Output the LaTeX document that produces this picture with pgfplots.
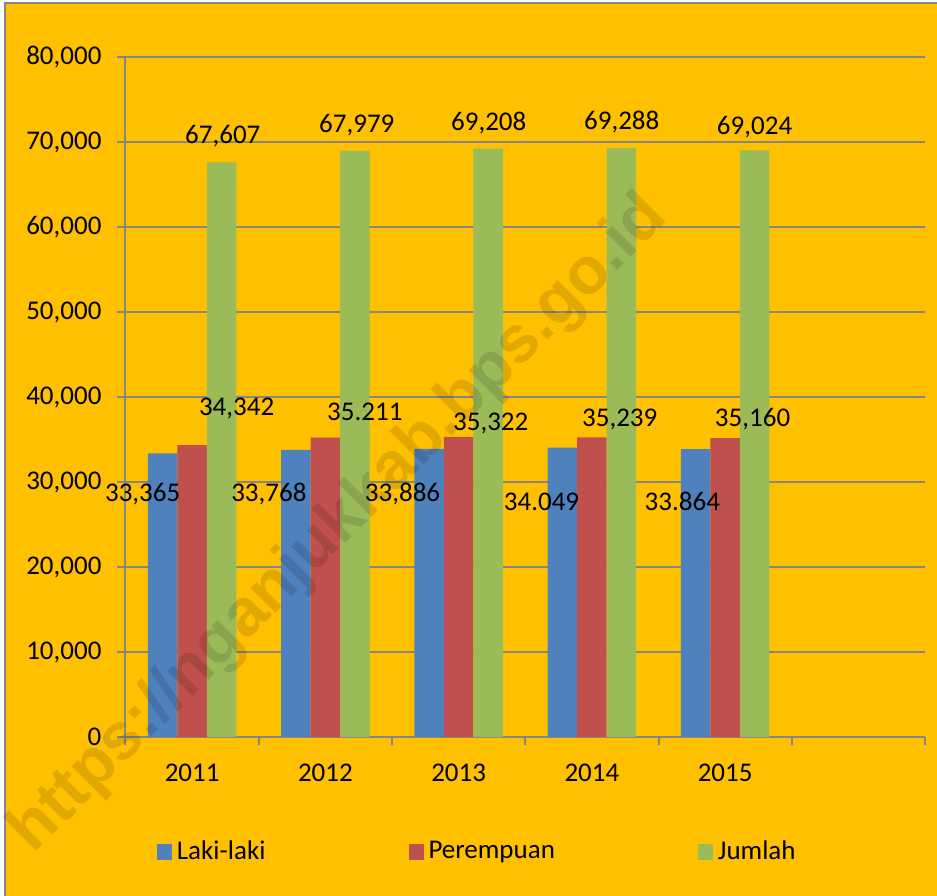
\documentclass[border=0pt]{standalone}
\usepackage{pgfplots}
\pgfplotsset{compat=1.18}
\usepackage{fontspec}
\setmainfont{Carlito}
\newfontfamily\wmfont{Liberation Sans}
\definecolor{bg}{HTML}{FFC000}
\definecolor{cblue}{HTML}{4F81BD}
\definecolor{cred}{HTML}{C0504D}
\definecolor{cgreen}{HTML}{9BBB59}
\definecolor{gridc}{HTML}{868686}
\newcommand{\lf}{\fontsize{13.5}{15}\selectfont}
\begin{document}
\begin{tikzpicture}[x=1pt,y=1pt]
\useasboundingbox (-62.75,-79) rectangle (405.75,368.5);
\clip (-62.75,-79) rectangle (405.75,368.5);
\fill[white] (-62.75,-79) rectangle (405.75,368.5);
\filldraw[fill=bg, draw=gridc, line width=1pt] (-60.25,-95) rectangle (420,367);
\begin{axis}[
  at={(0,0)}, anchor=south west,
  scale only axis, width=399.75pt, height=340pt,
  ybar=0pt, bar width=14.75pt,
  xmin=-0.5, xmax=5.5, ymin=0, ymax=80000,
  xtick={-0.5,0.5,1.5,2.5,3.5,4.5,5.5},
  x tick label as interval,
  xticklabels={2011,2012,2013,2014,2015,{}},
  ytick={0,10000,20000,30000,40000,50000,60000,70000,80000},
  ymajorgrids, grid style={gridc, line width=1pt},
  axis x line*=bottom, axis y line*=left,
  axis line style={-, gridc, line width=1pt},
  tick style={gridc, line width=1pt}, tick align=outside, major tick length=4pt,
  ticklabel style={font=\lf, text=black},
  xticklabel style={yshift=-6pt},
  scaled y ticks=false,
  yticklabel style={xshift=-4.5pt, /pgf/number format/.cd, fixed, 1000 sep={,}, assume math mode=true},
  legend columns=3,
  legend style={draw=none, fill=none, at={(axis description cs:0,0)}, anchor=west,
    xshift=15.5pt, yshift=-57.35pt, font=\lf, inner sep=0pt,
    nodes={inner xsep=2.5pt, inner ysep=2pt},
    /tikz/every even column/.append style={column sep=69pt}},
  legend image code/.code={\fill[#1] (0pt,-4pt) rectangle (7.5pt,4pt);},
  clip=false,
]
\addplot[fill=cblue, draw=none] coordinates {(0,33365) (1,33768) (2,33886) (3,34049) (4,33864)};
\addplot[fill=cred, draw=none] coordinates {(0,34342) (1,35211) (2,35322) (3,35239) (4,35160)};
\addplot[fill=cgreen, draw=none] coordinates {(0,67607) (1,68979) (2,69208) (3,69288) (4,69024)};
\legend{Laki-laki,Perempuan,Jumlah}
\begin{scope}[every node/.style={font=\lf, text height=8.5pt, text depth=0pt, inner sep=0pt}]
\node at (axis cs:0.230,70824) {67,607};
\node at (axis cs:1.236,72118) {67,979};
\node at (axis cs:2.226,72353) {69,208};
\node at (axis cs:3.224,72471) {69,288};
\node at (axis cs:4.221,71882) {69,024};
\node at (axis cs:0.334,38859) {34,342};
\node at (axis cs:1.296,38271) {35.211};
\node at (axis cs:2.241,37059) {35,322};
\node at (axis cs:3.209,37529) {35,239};
\node at (axis cs:4.206,37529) {35,160};
\node at (axis cs:-0.371,28741) {33,365};
\node at (axis cs:0.576,28741) {33,768};
\node at (axis cs:1.579,28706) {33,886};
\node at (axis cs:2.622,27682) {34.049};
\node at (axis cs:3.679,27682) {33.864};
\end{scope}
\end{axis}
\node[rotate=45, font=\wmfont\bfseries\fontsize{33}{33}\selectfont, text=black, opacity=0.12] at (107,106) {https://nganjukkab.bps.go.id};
\end{tikzpicture}
\end{document}
